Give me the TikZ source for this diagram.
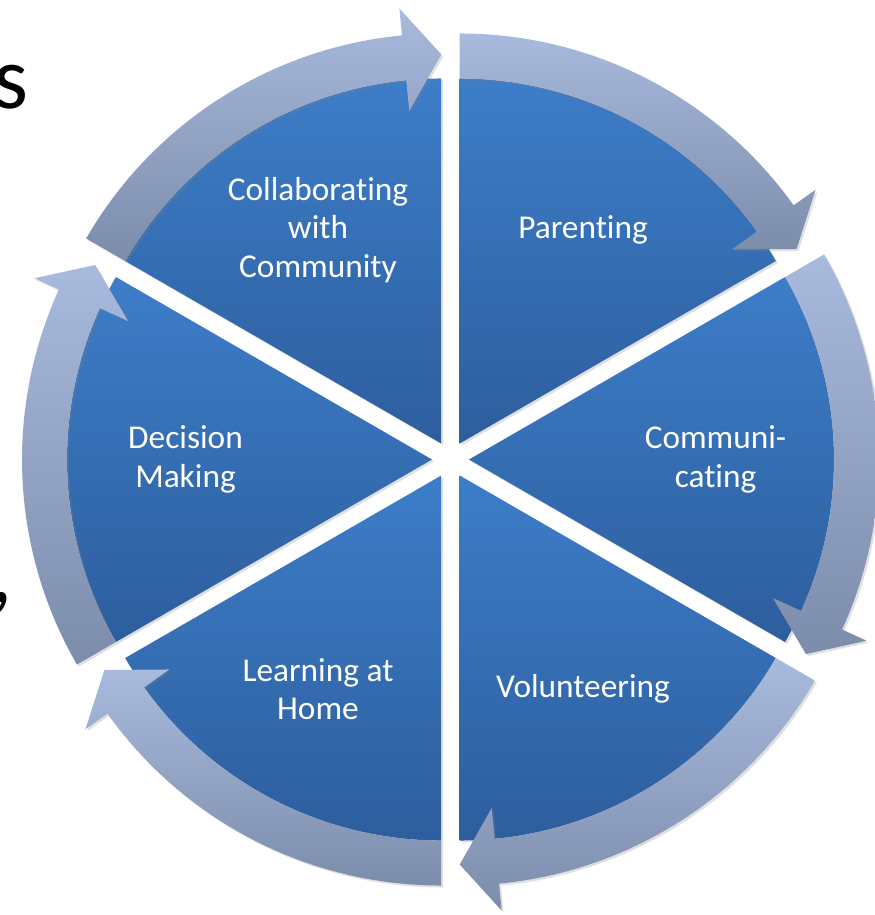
\documentclass[tikz,border=0pt]{standalone}
\usepackage{fontspec}
\setmainfont{Carlito}[Ligatures=NoCommon]
\usetikzlibrary{shadows}
\definecolor{wedgetop}{RGB}{61,125,200}
\definecolor{wedgebot}{RGB}{45,94,158}
\definecolor{ringtop}{RGB}{168,186,221}
\definecolor{ringbot}{RGB}{124,140,171}
\tikzset{
  wedge/.style={top color=wedgetop, bottom color=wedgebot,
    drop shadow={opacity=0.25, shadow xshift=1.5pt, shadow yshift=-1.5pt}},
  ring/.style={top color=ringtop, bottom color=ringbot,
    drop shadow={opacity=0.25, shadow xshift=1.5pt, shadow yshift=-1.5pt}},
  wlabel/.style={text=white, align=center, inner sep=0pt,
    font=\fontsize{25}{29}\selectfont},
  stray/.style={text=black, inner sep=0pt, font=\fontsize{67}{80}\selectfont}
}

\begin{document}
\begin{tikzpicture}[x=0.75pt,y=0.75pt]
\useasboundingbox (-450.5,-455.5) rectangle (424.5,459.5);

\node[stray, anchor=base west] (s) at (-457,351.5) {s};
\node[stray, anchor=base east] (comma) at (-437,-142.5) {,};

\foreach \b in {60,0,-60,-120,180,120} {
  \begin{scope}[shift={(\b:18.5)}]
    \path[wedge] (0,0) -- ({\b+30}:365) arc[start angle=\b+30, end angle=\b-30, radius=365] -- cycle;
  \end{scope}
}

\foreach \b in {60,0,-60,-120,180,120} {
  \begin{scope}[shift={(\b:18.5)}]
    \path[ring] ({\b+30}:365) arc[start angle=\b+30, end angle=\b-24.5, radius=365]
      -- ({\b-24.5}:334) -- ({\b-30}:389) -- ({\b-24.5}:437) -- ({\b-24.5}:410)
      arc[start angle=\b-24.5, end angle=\b+30, radius=410] -- cycle;
  \end{scope}
}

\node[wlabel] (collab) at (120:265) {Collaborating\\with\\Community};
\node[wlabel] (parent) at (60:265) {Parenting};
\node[wlabel] (commun) at (0:265) {Communi-\\cating};
\node[wlabel] (volun) at (-60:265) {Volunteering};
\node[wlabel] (learn) at (-120:265) {Learning at\\Home};
\node[wlabel] (decis) at (180:265) {Decision\\Making};

\end{tikzpicture}
\end{document}
